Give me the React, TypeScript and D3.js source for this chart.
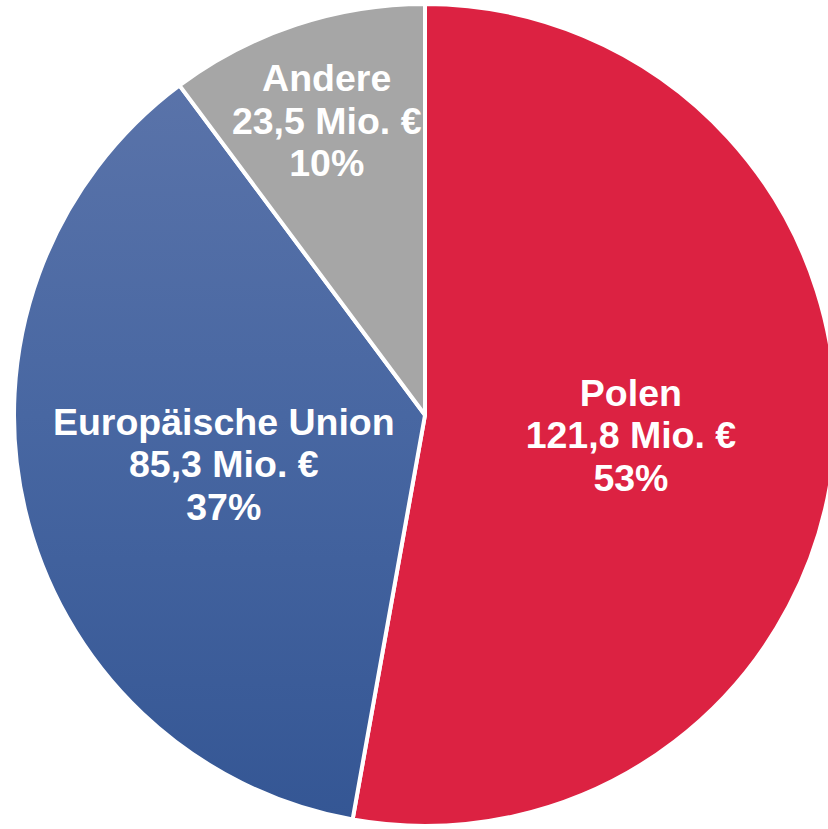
import React from "react";
import * as d3 from "d3";

const categories = ["Polen", "Europäische Union", "Andere"];
const amounts = [121.8, 85.3, 23.5];
const amountLabels = ["121,8 Mio. €", "85,3 Mio. €", "23,5 Mio. €"];
const percentLabels = ["53%", "37%", "10%"];
const colors = ["#DC2242", "url(#euGrad)", "#A6A6A6"];

const W = 828;
const H = 829;
const CX = 425;
const CY = 415;
const R = 411;

export default function App() {
  const pie = d3.pie<number>().sort(null).value((d) => d);
  const arcs = pie(amounts);
  const arcGen = d3.arc<d3.PieArcDatum<number>>().innerRadius(0).outerRadius(R);
  const labelFactor = (i: number) => (i === 2 ? 0.76 : 0.503);
  const lineH = 42.5;

  return (
    <svg
      width={W}
      height={H}
      style={{ position: "absolute", left: 0, top: 0 }}
    >
      <defs>
        <linearGradient id="euGrad" gradientUnits="userSpaceOnUse" x1="0" y1={-R} x2="0" y2={R}>
          <stop offset="0" stopColor="#5E76AB" />
          <stop offset="0.5" stopColor="#4867A2" />
          <stop offset="1" stopColor="#345694" />
        </linearGradient>
      </defs>
      <g transform={`translate(${CX},${CY})`}>
        {arcs.map((a, i) => (
          <path key={i} d={arcGen(a) || ""} fill={colors[i]} stroke="#fff" strokeWidth={4} strokeLinejoin="round" />
        ))}
        {arcs.map((a, i) => {
          const mid = (a.startAngle + a.endAngle) / 2;
          const r = R * labelFactor(i);
          const x = Math.sin(mid) * r;
          const y = -Math.cos(mid) * r;
          const lines = [categories[i], amountLabels[i], percentLabels[i]];
          return (
            <text
              key={"t" + i}
              x={x}
              y={y}
              textAnchor="middle"
              fill="#fff"
              fontFamily="Liberation Sans, Arial, sans-serif"
              fontWeight="bold"
              fontSize={37.5}
            >
              {lines.map((l, j) => (
                <tspan key={j} x={x} y={y + (j - 1) * lineH + 15}>
                  {l}
                </tspan>
              ))}
            </text>
          );
        })}
      </g>
    </svg>
  );
}
